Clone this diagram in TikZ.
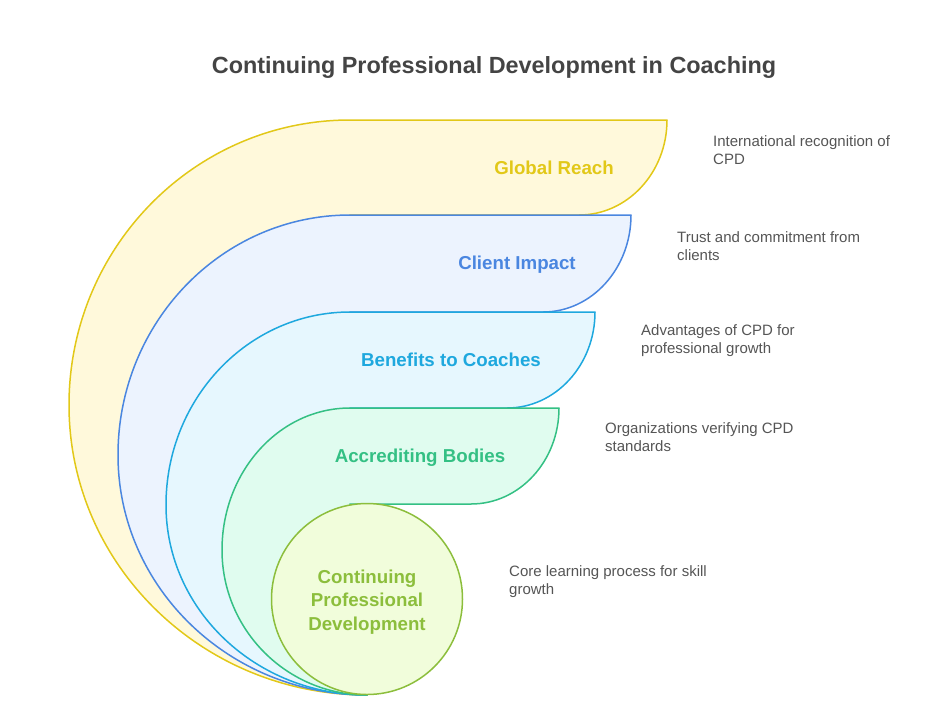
\documentclass[tikz,border=0pt]{standalone}
\usepackage{fontspec}
\setmainfont{Liberation Sans}
\usepackage{tikz}
\definecolor{CPDTitle}{RGB}{68,68,68}
\definecolor{CPDDesc}{RGB}{85,85,85}
\definecolor{CPDColor0}{RGB}{226,200,24}
\definecolor{CPDColor1}{RGB}{74,134,224}
\definecolor{CPDColor2}{RGB}{30,168,222}
\definecolor{CPDColor3}{RGB}{52,192,132}
\definecolor{CPDColor4}{RGB}{140,190,60}
\definecolor{CPDFill0}{RGB}{255,249,219}
\definecolor{CPDFill1}{RGB}{236,243,254}
\definecolor{CPDFill2}{RGB}{230,247,254}
\definecolor{CPDFill3}{RGB}{224,252,239}
\definecolor{CPDFill4}{RGB}{241,253,219}

\begin{document}
\begin{tikzpicture}[x=1pt,y=-1pt,
  band/.style={draw=CPDColor#1,fill=CPDFill#1,line width=1.5pt,line join=round},
  bandlabel/.style={text=CPDColor#1,font=\fontsize{18.7}{23.5}\selectfont\bfseries,align=center,inner sep=0pt},
  desc/.style={text=CPDDesc,font=\fontsize{15}{18}\selectfont,align=left,anchor=west,inner sep=0pt}]
\useasboundingbox (0,0) rectangle (950,721);
\node[font=\fontsize{23.4}{28}\selectfont\bfseries,text=CPDTitle] (title) at (494,67)
   {Continuing Professional Development in Coaching};
% outer bands first, inner ones on top
\foreach \i/\T/\B/\L/\cy/\R/\tx/\txt in %
{0/120/215/69/405/667/554/Global Reach,1/215/312/118/455/631/517/Client Impact,
 2/312/408/166/505/595/451/Benefits to Coaches,3/408/504/222/550/559/420/Accrediting Bodies} {
   \draw[band=\i] (350,\T) -- (\R,\T)
      .. controls (\R,{\T+0.5523*(\B-\T)}) and ({\R-39.4},\B) .. ({\R-88},\B)
      -- (350,\B) -- (367,695)
      .. controls ({367-0.5523*(367-\L)},695) and (\L,{\cy+0.5523*(695-\cy)}) .. (\L,\cy)
      .. controls (\L,{\cy-0.5523*(\cy-\T)}) and ({350-0.5523*(350-\L)},\T) .. (350,\T) -- cycle;
   \node[bandlabel=\i,anchor=base] (lbl\i) at (\tx,{\T+54.5}) {\txt};
}
\node[circle,draw=CPDColor4,fill=CPDFill4,line width=1.5pt,minimum size=191pt,
   inner sep=0pt] (cpd) at (367,599) {};
\node[bandlabel=4] (lbl4) at (367,602) {Continuing\\Professional\\Development};
\foreach \i/\x/\y/\txt in %
{0/713/150/{International recognition of\\CPD},
 1/677/246/{Trust and commitment from\\clients},
 2/641/341/{Advantages of CPD for\\professional growth},
 3/605/437/{Organizations verifying CPD\\standards},
 4/509/582/{Core learning process for skill\\growth}} {
   \node[desc] (desc\i) at (\x,\y) {\txt};
}
\end{tikzpicture}
\end{document}
